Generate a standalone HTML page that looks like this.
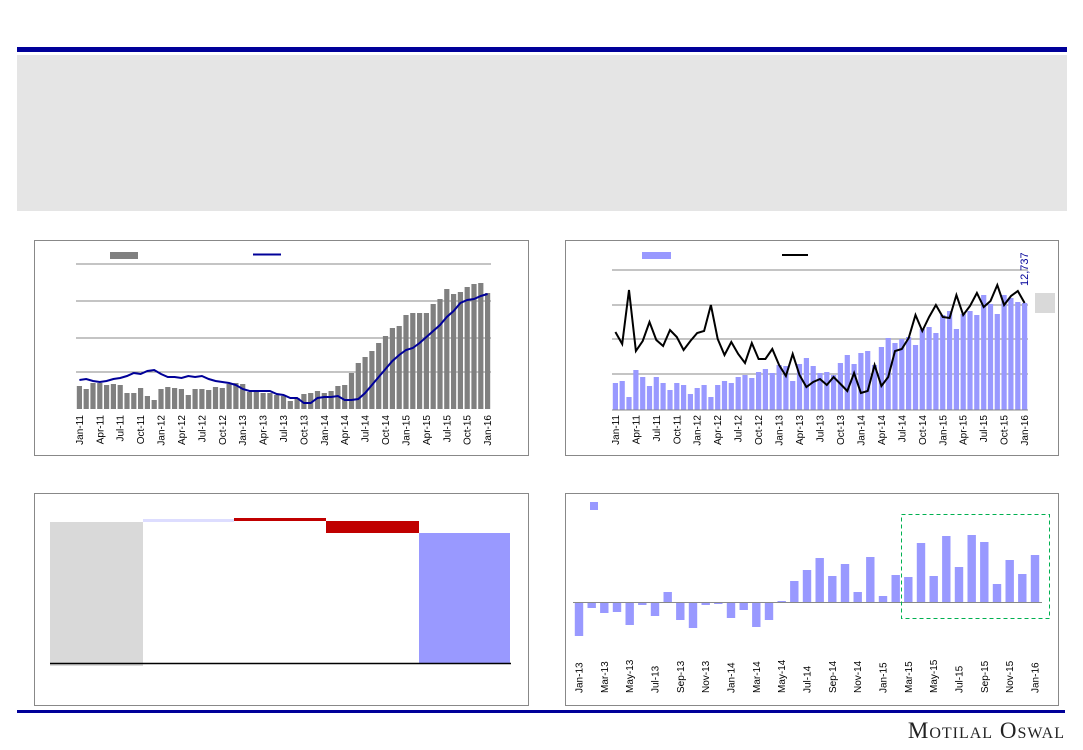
<!DOCTYPE html>
<html><head><meta charset="utf-8"><style>
html,body{margin:0;padding:0;background:#fff;width:1083px;height:750px;overflow:hidden}
svg{display:block}
text{font-family:"Liberation Sans",sans-serif;font-size:10px;fill:#000}
</style></head><body>
<svg id="s" width="1083" height="750" xmlns="http://www.w3.org/2000/svg">
<rect x="17" y="47" width="1050" height="5" fill="#000099"/>
<rect x="17" y="55" width="1050" height="156" fill="#e5e5e5"/>
<rect x="17" y="710" width="1048" height="3" fill="#000099"/>
<text x="1065" y="738" text-anchor="end" style="font-family:'Liberation Serif',serif;font-size:23px;fill:#222;font-variant:small-caps;letter-spacing:1px">Motilal Oswal</text>
<rect x="34.5" y="240.5" width="494" height="215" fill="#fff" stroke="#888"/>
<rect x="565.5" y="240.5" width="493" height="215" fill="#fff" stroke="#888"/>
<rect x="34.5" y="493.5" width="494" height="212" fill="#fff" stroke="#888"/>
<rect x="565.5" y="493.5" width="493" height="212" fill="#fff" stroke="#888"/>
<g id="g"></g>
</svg>
<script>
var g=document.getElementById('g'),h='';
function R(x,y,w,hh,f){h+='<rect x="'+x+'" y="'+y+'" width="'+w+'" height="'+hh+'" fill="'+f+'"/>';}
function L(x1,y1,x2,y2,c,w,d){h+='<line x1="'+x1+'" y1="'+y1+'" x2="'+x2+'" y2="'+y2+'" stroke="'+c+'" stroke-width="'+w+'"'+(d?' stroke-dasharray="'+d+'"':'')+'/>';}
var M=['Jan','Feb','Mar','Apr','May','Jun','Jul','Aug','Sep','Oct','Nov','Dec'];
function lab(i,y0){return M[i%12]+'-'+(y0+Math.floor(i/12));}
// top-left
var b1=[386,389,383,383,385,384,385,393,393,388,396,400,389,387,388,389,395,389,389,390,387,388,384,383,384,392,391,393,393,395,396,401,398,394,393,391,393,391,386,385,373,363,357,351,343,336,328,326,315,313,313,313,304,299,289,294,292,287,284,283,293];
var l1=[380,379,381,382,381,379,378,376,373,374,371,370,374,377,377,378,376,377,376,379,381,382,383,385,389,391,391,391,391,394,395,398,398,403,403,398,397,397,396,400,400,399,393,385,377,369,361,355,350,348,343,337,331,325,317,311,303,300,299,296,294];
[264,301,338,372].forEach(function(y){L(76,y,491,y,'#888',1)});
var x0=76,sp=(491-76)/61;
b1.forEach(function(v,i){R((x0+i*sp+0.8).toFixed(1),v,(sp-1.6).toFixed(1),409-v,'#808080')});
h+='<polyline fill="none" stroke="#000099" stroke-width="2" points="'+l1.map(function(v,i){return (x0+(i+0.5)*sp).toFixed(1)+','+v}).join(' ')+'"/>';
for(var i=0;i<61;i+=3){var x=x0+(i+0.5)*sp+3.5;h+='<text transform="translate('+x.toFixed(1)+',415) rotate(-90)" text-anchor="end">'+lab(i,11)+'</text>';}
R(110,252,28,7,'#808080');L(253,254.5,281,254.5,'#000099',2);
// top-right
var b2=[383,381,397,370,377,386,377,383,390,383,385,394,388,385,397,385,381,383,377,375,378,372,369,373,365,366,381,364,358,366,373,372,375,363,355,364,353,351,365,347,338,343,339,337,345,329,327,333,315,311,329,314,311,315,295,304,314,295,298,302,303];
var l2=[332,344,290,351,341,322,340,346,330,337,350,341,333,331,305,339,355,342,354,363,343,359,359,349,365,376,354,375,387,382,379,385,377,384,391,373,393,391,365,386,377,351,349,338,315,331,317,305,317,318,295,315,306,293,307,301,285,305,296,291,303];
[270,305,339,374].forEach(function(y){L(612,y,1028,y,'#888',1)});
x0=612;sp=(1028-612)/61;
b2.forEach(function(v,i){R((x0+i*sp+0.8).toFixed(1),v,(sp-1.6).toFixed(1),410-v,'#9999ff')});
L(612,410,1028,410,'#888',1);
h+='<polyline fill="none" stroke="#000" stroke-width="2" points="'+l2.map(function(v,i){return (x0+(i+0.5)*sp).toFixed(1)+','+v}).join(' ')+'"/>';
for(var i=0;i<61;i+=3){var x=x0+(i+0.5)*sp+3.5;h+='<text transform="translate('+x.toFixed(1)+',415) rotate(-90)" text-anchor="end">'+lab(i,11)+'</text>';}
R(642,252,29,7,'#9999ff');L(782,255,808,255,'#000',2);
h+='<text transform="translate(1028,286) rotate(-90)" style="fill:#000099;font-size:11px">12,737</text>';
R(1035,293,20,20,'#d9d9d9');
// bottom-left waterfall
R(50,522,93,144,'#d9d9d9');R(143,519,91,3,'#ddddff');R(234,518,92,3,'#c00000');R(326,521,93,12,'#c00000');R(419,533,91,130,'#9999ff');
L(50,663.5,511,663.5,'#000',1.5);
// bottom-right
var b3=[636,608,613,612,625,605,616,592,620,628,605,604,618,610,627,620,601,581,570,558,576,564,592,557,596,575,577,543,576,536,567,535,542,584,560,574,555];
sp=(1035-579)/36;
b3.forEach(function(v,i){var c=579+i*sp;var t=Math.min(v,602),bh=Math.abs(v-602);R((c-4.2).toFixed(1),t,8.4,Math.max(bh,0.8),'#9999ff')});
L(573,602.5,1042,602.5,'#888',1);
R(590,502,8,8,'#9999ff');
h+='<rect x="901.5" y="514.5" width="148" height="104" fill="none" stroke="#00b050" stroke-dasharray="4,3"/>';
for(var i=0;i<37;i+=2){var x=579+i*sp+3.5;h+='<text transform="translate('+x.toFixed(1)+',693) rotate(-90)">'+lab(i,13)+'</text>';}
g.innerHTML=h;
</script>
</body></html>
